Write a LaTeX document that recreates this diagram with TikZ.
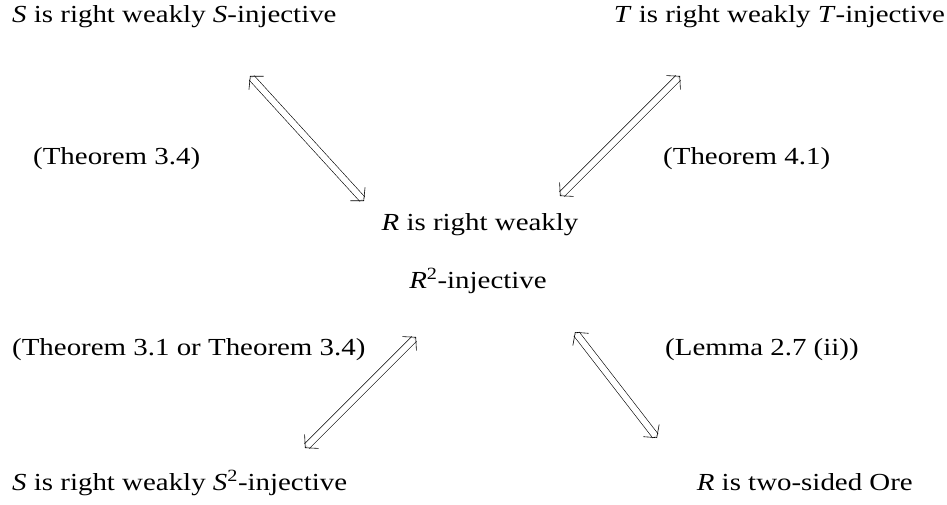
\documentclass[tikz,border=0pt]{standalone}
\usepackage{fontspec}
\setmainfont[FakeStretch=1.18]{Liberation Serif}
\usetikzlibrary{arrows.meta,calc}
\newcommand{\dblarr}[2]{%
  \draw[dblline] ($(#1)!2.5pt!(#2)$) -- ($(#2)!2.5pt!(#1)$);
  \draw[barb] ($(#1)!1pt!(#2)$) -- (#1);
  \draw[barb] ($(#2)!1pt!(#1)$) -- (#2);}
\begin{document}
\begin{tikzpicture}[x=1pt,y=1pt,
  lbl/.style={inner sep=0pt, font=\fontsize{24.5}{28}\selectfont, text height=1.5ex, text depth=.25ex},
  dblline/.style={double, double distance=6pt, line width=0.6pt},
  barb/.style={line width=0.6pt, -{Straight Barb[length=9pt,width=20pt]}}]
\useasboundingbox (0,0) rectangle (947,504);
\node[lbl, anchor=west] (tl) at (12,484) {\textit{S} is right weakly \textit{S}-injective};
\node[lbl, anchor=east] (tr) at (945,484) {\textit{T} is right weakly \textit{T}-injective};
\node[lbl, anchor=west] (t34) at (33,342) {(Theorem 3.4)};
\node[lbl, anchor=west] (t41) at (663,342) {(Theorem 4.1)};
\node[lbl] (r1) at (480,276) {\textit{R} is right weakly};
\node[lbl] (r2) at (478,218) {\textit{R}\textsuperscript{2}-injective};
\node[lbl, anchor=west] (t31) at (12,151) {(Theorem 3.1 or Theorem 3.4)};
\node[lbl, anchor=west] (lem) at (665,151) {(Lemma 2.7 (ii))};
\node[lbl, anchor=west] (bl) at (12,16) {\textit{S} is right weakly \textit{S}\textsuperscript{2}-injective};
\node[lbl, anchor=east] (br) at (913,16) {\textit{R} is two-sided Ore};
\coordinate (a1s) at (250,428);
\coordinate (a1e) at (364,303);
\coordinate (a2s) at (680,428);
\coordinate (a2e) at (560,308);
\coordinate (a3s) at (416,167);
\coordinate (a3e) at (305,56);
\coordinate (a4s) at (575,172);
\coordinate (a4e) at (657,66);
\dblarr{a1s}{a1e}
\dblarr{a2s}{a2e}
\dblarr{a3s}{a3e}
\dblarr{a4s}{a4e}
\end{tikzpicture}
\end{document}
